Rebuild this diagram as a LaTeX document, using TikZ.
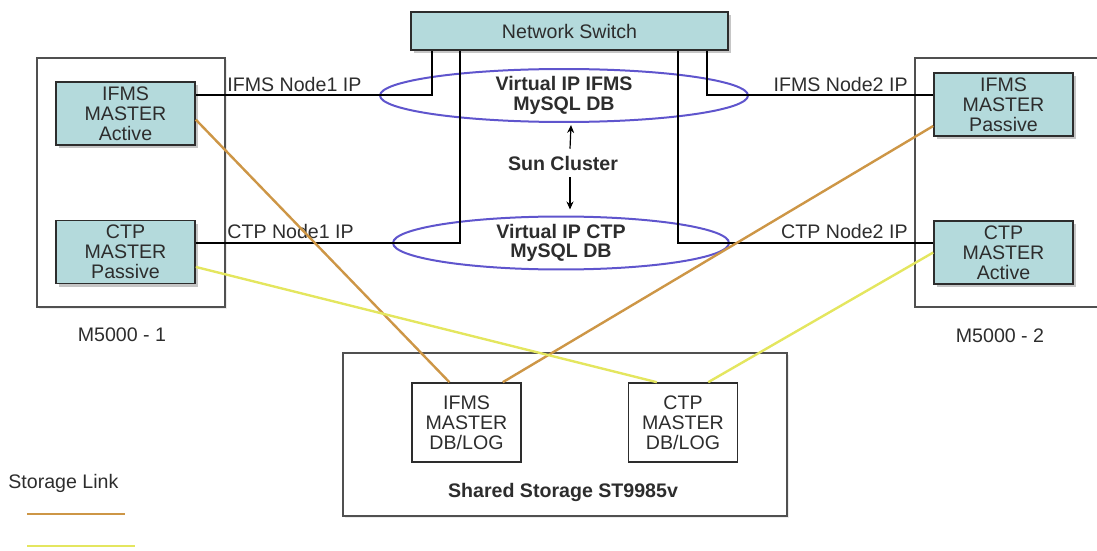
\documentclass[tikz,border=0pt]{standalone}
\usepackage{fontspec}
\setmainfont{Liberation Sans}
\usetikzlibrary{shapes.geometric}
\usetikzlibrary{shadows}
\usetikzlibrary{arrows.meta}

\definecolor{boxteal}{RGB}{180,218,220}
\definecolor{vipblue}{RGB}{95,85,205}
\definecolor{linkorange}{RGB}{205,150,70}
\definecolor{linkyellow}{RGB}{228,230,95}
\definecolor{inkgray}{RGB}{45,45,45}
\definecolor{hostgray}{RGB}{80,80,80}

\begin{document}
\begin{tikzpicture}[x=0.5pt,y=-0.5pt,
    every node/.style={font=\fontsize{9.8}{10}\selectfont, text=inkgray},
    boldtext/.style={font=\fontsize{9.8}{10}\selectfont\bfseries},
    master/.style={draw=inkgray, line width=0.8pt, fill=boxteal, align=center,
        inner sep=0pt, minimum width=69.5pt, minimum height=31.5pt,
        drop shadow={shadow xshift=1.5pt, shadow yshift=-1.5pt, opacity=0.45}},
    hostbox/.style={draw=hostgray, line width=0.8pt, fill=white, inner sep=0pt,
        drop shadow={shadow xshift=1.2pt, shadow yshift=-1.2pt, opacity=0.15}},
    dbbox/.style={draw=inkgray, line width=0.8pt, fill=white, align=center,
        inner sep=0pt, minimum width=54.5pt, minimum height=39.5pt},
    vip/.style={ellipse, draw=vipblue, line width=1pt, align=center, inner sep=0pt,
        font=\fontsize{9.8}{9.6}\selectfont\bfseries},
    iplabel/.style={inner sep=0pt},
    net/.style={line width=1pt, black},
    orangelink/.style={line width=1.2pt, linkorange},
    yellowlink/.style={line width=1.2pt, linkyellow}]

    \useasboundingbox (0,0) rectangle (1097,551);

    % hosts
    \node[hostbox, minimum width=94pt, minimum height=124.5pt] (m1) at (131,182.5) {};
    \draw[hostgray, line width=0.8pt] (1097,58) -| (915,307) -- (1097,307);
    \node (m1lbl) at (122,335) {M5000 - 1};
    \node (m2lbl) at (1000,336) {M5000 - 2};

    % masters
    \node[master] (ifmsA) at (125.5,113.5) {IFMS\\MASTER\\Active};
    \node[master] (ctpP) at (125.5,252) {CTP\\MASTER\\Passive};
    \node[master] (ifmsP) at (1003.5,104.5) {IFMS\\MASTER\\Passive};
    \node[master] (ctpA) at (1003.5,252.5) {CTP\\MASTER\\Active};

    % switch
    \node[master, minimum width=158.5pt, minimum height=19pt] (sw) at (569.5,31) {Network Switch};
    \coordinate (tap1) at (432,0);
    \coordinate (tap2) at (460,0);
    \coordinate (tap3) at (678,0);
    \coordinate (tap4) at (707,0);

    % virtual ips
    \node[vip, minimum width=184pt, minimum height=22.5pt] (vifms) at (564,95.5) {Virtual IP IFMS\\MySQL DB};
    \node[vip, minimum width=168pt, minimum height=23.5pt] (vctp) at (561,243) {Virtual IP CTP\\MySQL DB};
    \node[boldtext] (sun) at (563,163) {Sun Cluster};

    % network lines
    \draw[net] (sw.south -| tap1) |- (ifmsA.east |- vifms);
    \draw[net] (sw.south -| tap2) |- (ctpP.east |- vctp);
    \draw[net] (sw.south -| tap3) |- (ctpA.west |- vctp);
    \draw[net] (sw.south -| tap4) |- (ifmsP.west |- vifms);
    \node[iplabel, anchor=west] (ip1) at (227,84) {IFMS Node1 IP};
    \node[iplabel, anchor=west] (ip2) at (227,231) {CTP Node1 IP};
    \node[iplabel, anchor=east] (ip3) at (908,84) {IFMS Node2 IP};
    \node[iplabel, anchor=east] (ip4) at (908,231) {CTP Node2 IP};

    % cluster arrows
    \draw[-{Stealth[length=4pt,width=3.5pt]}, line width=0.6pt] ([xshift=3.5pt]sun.north) -- ([xshift=3.5pt,yshift=-1pt]vifms.south);
    \draw[-{Stealth[length=4pt,width=3.5pt]}, line width=0.6pt] ([xshift=3.5pt]sun.south) -- ([xshift=4.5pt,yshift=3pt]vctp.north);

    % storage
    \node[hostbox, minimum width=222pt, minimum height=81.5pt] (stor) at (565,434.5) {};
    \node[dbbox] (ifmsDB) at (466.5,422.5) {IFMS\\MASTER\\DB/LOG};
    \node[dbbox] (ctpDB) at (683,422.5) {CTP\\MASTER\\DB/LOG};
    \node[boldtext] (storlbl) at (563,492) {Shared Storage ST9985v};

    % storage links
    \draw[orangelink] (ifmsA.-5) -- (ifmsDB.113);
    \draw[orangelink] (ifmsP.197) -- (ifmsDB.48);
    \draw[yellowlink] (ctpP.-12) -- (ctpDB.123);
    \draw[yellowlink] (ctpA.west) -- (ctpDB.58);

    % legend
    \node[iplabel, anchor=west] (legend) at (8,483) {Storage Link};
    \draw[orangelink] (27,514) -- (125,514);
    \draw[yellowlink] (27,546) -- (135,546);
\end{tikzpicture}
\end{document}
